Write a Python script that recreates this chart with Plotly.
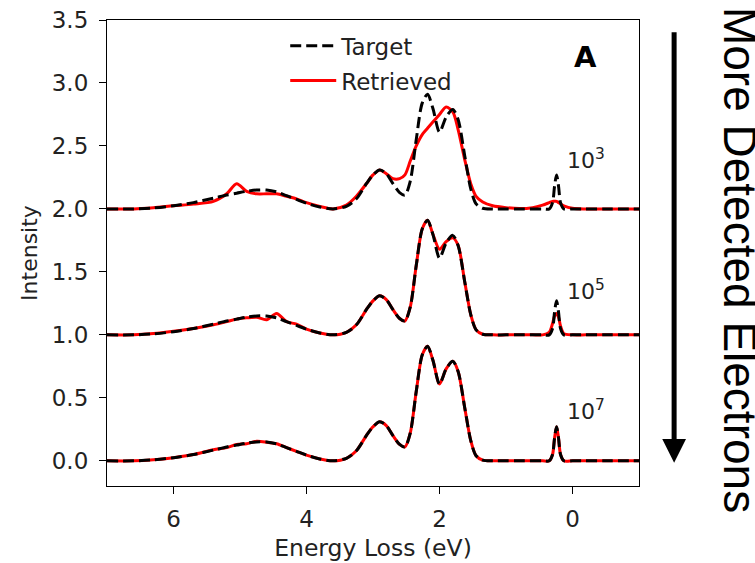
import plotly.graph_objects as go

# ---------------- data ----------------
energy = [7.0, 6.6, 6.3, 6.0, 5.7, 5.4, 5.2, 5.05, 4.9, 4.75, 4.6, 4.45, 4.3, 4.15,
          4.0, 3.8, 3.6, 3.4, 3.25, 3.1, 3.0, 2.9, 2.8, 2.7, 2.6, 2.52, 2.44, 2.35,
          2.26, 2.18, 2.1, 2.0, 1.9, 1.8, 1.72, 1.62, 1.53, 1.45, 1.35, 1.2, 1.0,
          0.8, 0.6, 0.45, 0.35, 0.3, 0.27, 0.24, 0.21, 0.18, 0.13, 0.0, -0.2, -0.5, -1.0]

target = [0.0, 0.0, 0.008, 0.025, 0.05, 0.085, 0.11, 0.125, 0.14, 0.15, 0.15, 0.135, 0.105, 0.075,
          0.045, 0.015, 0.0, 0.02, 0.08, 0.2, 0.27, 0.31, 0.28, 0.2, 0.13, 0.11, 0.22, 0.55,
          0.84, 0.91, 0.8, 0.61, 0.73, 0.79, 0.71, 0.42, 0.16, 0.04, 0.005, 0.0, 0.0,
          0.0, 0.0, 0.0, 0.0, 0.05, 0.18, 0.27, 0.18, 0.05, 0.0, 0.0, 0.0, 0.0, 0.0]

retrieved_1e3 = [0.0, 0.0, 0.01, 0.025, 0.038, 0.06, 0.12, 0.2, 0.14, 0.12, 0.12, 0.12, 0.1, 0.08,
                 0.05, 0.02, 0.0, 0.03, 0.1, 0.2, 0.27, 0.31, 0.28, 0.24, 0.24, 0.27, 0.38, 0.5,
                 0.59, 0.64, 0.69, 0.75, 0.81, 0.77, 0.63, 0.39, 0.2, 0.1, 0.055, 0.025, 0.01,
                 0.003, 0.01, 0.03, 0.05, 0.06, 0.06, 0.06, 0.05, 0.04, 0.025, 0.005, 0.0, 0.0, 0.0]

retrieved_1e5 = [0.0, 0.0, 0.01, 0.028, 0.05, 0.08, 0.105, 0.125, 0.135, 0.14, 0.12, 0.17, 0.105, 0.085,
                 0.045, 0.015, 0.0, 0.02, 0.08, 0.2, 0.27, 0.31, 0.28, 0.2, 0.13, 0.11, 0.22, 0.55,
                 0.84, 0.91, 0.8, 0.68, 0.74, 0.77, 0.71, 0.42, 0.16, 0.04, 0.005, 0.0, 0.0,
                 0.0, 0.0, 0.0, 0.02, 0.09, 0.15, 0.17, 0.14, 0.07, 0.01, 0.0, 0.0, 0.0, 0.0]

retrieved_1e7 = [0.0, 0.0, 0.008, 0.025, 0.05, 0.088, 0.105, 0.13, 0.135, 0.155, 0.148, 0.135, 0.105, 0.075,
                 0.045, 0.015, 0.0, 0.02, 0.08, 0.2, 0.27, 0.31, 0.28, 0.2, 0.13, 0.11, 0.22, 0.55,
                 0.84, 0.91, 0.8, 0.61, 0.73, 0.79, 0.71, 0.42, 0.16, 0.04, 0.005, 0.0, 0.0,
                 0.0, 0.0, 0.0, 0.0, 0.05, 0.18, 0.27, 0.18, 0.05, 0.0, 0.0, 0.0, 0.0, 0.0]

retrieved_sets = [retrieved_1e3, retrieved_1e5, retrieved_1e7]
offsets = [2.0, 1.0, 0.0]
dose_labels = ["10<sup>3</sup>", "10<sup>5</sup>", "10<sup>7</sup>"]
dose_label_y = [2.40, 1.36, 0.40]

x_ticks = [6, 4, 2, 0]
y_ticks = [0.0, 0.5, 1.0, 1.5, 2.0, 2.5, 3.0, 3.5]
y_tick_text = ["0.0", "0.5", "1.0", "1.5", "2.0", "2.5", "3.0", "3.5"]

# ---------------- figure ----------------
FONT = "DejaVu Sans"
TXT = "#222222"
fig = go.Figure()

for i, (ret, off) in enumerate(zip(retrieved_sets, offsets)):
    fig.add_trace(go.Scatter(
        x=energy, y=[v + off for v in ret], mode="lines",
        line=dict(color="#ff0000", width=3, shape="spline", smoothing=0.8),
        name="Retrieved", legendgroup="r", legendrank=2, showlegend=(i == 0)))
    fig.add_trace(go.Scatter(
        x=energy, y=[v + off for v in target], mode="lines",
        line=dict(color="#000000", width=3, dash="11px,5px", shape="spline", smoothing=0.8),
        name="Target", legendgroup="t", legendrank=1, showlegend=(i == 0)))

for lab, ly in zip(dose_labels, dose_label_y):
    fig.add_annotation(x=0.12, y=ly, xref="x", yref="y", text=lab, showarrow=False,
                       xanchor="left", yanchor="middle",
                       font=dict(family=FONT, size=22, color=TXT))

fig.add_annotation(x=-0.2, y=3.21, xref="x", yref="y", text="<b>A</b>", showarrow=False,
                   xanchor="center", yanchor="middle",
                   font=dict(family=FONT, size=29, color="#000000"))

# big arrow on the right
fig.add_annotation(x=1.066, y=0.05, xref="paper", yref="paper", ax=0, ay=-432,
                   axref="pixel", ayref="pixel", text="", showarrow=True,
                   arrowhead=2, arrowsize=0.95, arrowwidth=5, arrowcolor="#000000")
fig.add_annotation(x=1.19, y=0.485, xref="paper", yref="paper",
                   text="More Detected Electrons", showarrow=False, textangle=90,
                   xanchor="center", yanchor="middle",
                   font=dict(family="Liberation Sans", size=46, color="#000000"))

axis_common = dict(showline=True, mirror=True, linecolor="#000000", linewidth=1.2,
                   ticks="outside", ticklen=7, tickwidth=1.2, tickcolor="#000000",
                   showgrid=False, zeroline=False, automargin=False,
                   tickfont=dict(family=FONT, size=23, color=TXT))

fig.update_layout(
    width=755, height=563,
    margin=dict(l=107, r=116, t=20, b=77, autoexpand=False),
    paper_bgcolor="white", plot_bgcolor="white",
    xaxis=dict(range=[7, -1], tickvals=x_ticks, ticklabelstandoff=5,
               title=dict(text="Energy Loss (eV)", standoff=8,
                          font=dict(family=FONT, size=23.5, color=TXT)),
               **axis_common),
    yaxis=dict(range=[-0.2, 3.5], tickvals=y_ticks, ticktext=y_tick_text, ticklabelstandoff=6,
               title=dict(text="Intensity", standoff=8,
                          font=dict(family=FONT, size=22, color=TXT)),
               **axis_common),
    legend=dict(x=0.335, y=0.991, xanchor="left", yanchor="top", itemwidth=46,
                bgcolor="rgba(0,0,0,0)", borderwidth=0, traceorder="grouped",
                tracegroupgap=2, font=dict(family=FONT, size=23, color=TXT)),
    showlegend=True,
)

fig.write_html("out.html")
